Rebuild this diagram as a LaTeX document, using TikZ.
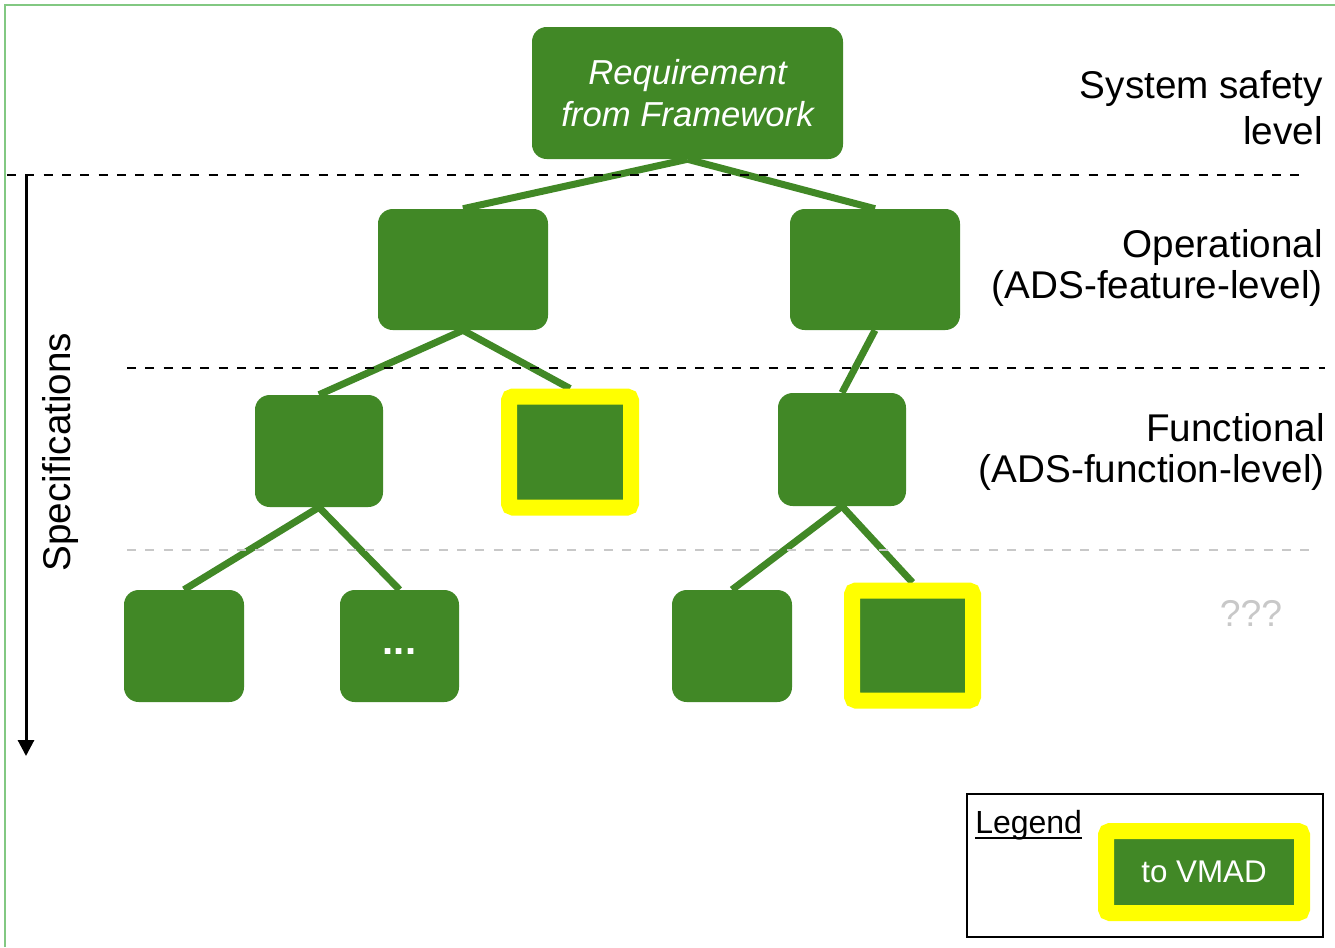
\documentclass[tikz,border=0pt]{standalone}
\usepackage{fontspec}
\setmainfont{Liberation Sans}
\usetikzlibrary{arrows.meta,backgrounds}
\begin{document}
\begin{tikzpicture}
% Requirement tree, drawn in pixel units
\def\px{0.75pt}
\definecolor{vmadGreen}{RGB}{65,136,38}
\definecolor{vmadYellow}{RGB}{255,255,0}
\definecolor{vmadFrame}{RGB}{130,200,130}
\definecolor{vmadGrey}{RGB}{200,200,200}
\tikzset{
  reqbox/.style={fill=vmadGreen, rounded corners=11pt, inner sep=0pt, text=white},
  vmadbox/.style={fill=vmadGreen, draw=vmadYellow, line width=12pt, rounded corners=3pt, inner sep=0pt, text=white},
  link/.style={draw=vmadGreen, line width=5.25pt},
  levelsep/.style={dash pattern=on 6.75pt off 7pt, line width=1.8pt},
  levellabel/.style={align=right, inner sep=0pt, anchor=base east},
}
\begin{scope}[x=\px, y=-\px]
  \useasboundingbox (0,0) rectangle (1335,947);
  % Outer frame (open to the right and bottom)
  \draw[vmadFrame, line width=1.5pt] (5,947) -- (5,5) -- (1335,5);
  % Level separators
  \draw[levelsep] (7,175) -- (1305,175);
  \draw[levelsep] (127,368) -- (1325,368);
  \draw[levelsep, vmadGrey] (127,550) -- (1312,550);
  % Top requirement
  \node[reqbox, minimum width={311*\px}, minimum height={132*\px}, align=center,
        font=\fontsize{26}{31.5}\selectfont\itshape] (req) at (687.5,93) {Requirement\\from Framework};
  % Operational level
  \node[reqbox, minimum width={170*\px}, minimum height={121*\px}] (opL) at (463,269.5) {};
  \node[reqbox, minimum width={170*\px}, minimum height={121*\px}] (opR) at (875,269.5) {};
  % Functional level
  \node[reqbox, minimum width={128*\px}, minimum height={112*\px}] (fnA) at (319,451) {};
  \node[vmadbox, minimum width={122*\px}, minimum height={111*\px}] (fnB) at (570,452) {};
  \node[reqbox, minimum width={128*\px}, minimum height={113*\px}] (fnC) at (842,449.5) {};
  % Level below
  \node[reqbox, minimum width={120*\px}, minimum height={112*\px}] (subD) at (184,646) {};
  \node[reqbox, minimum width={119*\px}, minimum height={112*\px},
        font=\fontsize{30}{34}\selectfont\bfseries] (subE) at (399.5,646) {\raisebox{-6pt}[0pt][0pt]{...}};
  \node[reqbox, minimum width={120*\px}, minimum height={112*\px}] (subF) at (732,646) {};
  \node[vmadbox, minimum width={121*\px}, minimum height={110*\px}] (subG) at (912.5,645.5) {};
  % Tree links
  \begin{scope}[on background layer]
    \draw[link] (req.south) -- (opL.north);
    \draw[link] (req.south) -- (opR.north);
    \draw[link] (opL.south) -- (fnA.north);
    \draw[link] (opL.south) -- (fnB.north);
    \draw[link] (opR.south) -- (fnC.north);
    \draw[link] (fnA.south) -- (subD.north);
    \draw[link] (fnA.south) -- (subE.north);
    \draw[link] (fnC.south) -- (subF.north);
    \draw[link] (fnC.south) -- (subG.north);
  \end{scope}
  % Level names (anchored on the last line)
  \node[levellabel, font=\fontsize{29}{34.5}\selectfont] (lvSys) at (1323,144) {System safety\\level};
  \node[levellabel, font=\fontsize{29}{30.5}\selectfont] (lvOp) at (1323,298) {Operational\\(ADS-feature-level)};
  \node[levellabel, font=\fontsize{29}{30.5}\selectfont] (lvFn) at (1325,482) {Functional\\(ADS-function-level)};
  \node[font=\fontsize{28}{32}\selectfont, text=vmadGrey, inner sep=0pt] (lvUnk) at (1251,613) {???};
  % Specification arrow
  \coordinate (specTop) at (26,175);
  \coordinate (specEnd) at (26,756);
  \draw[-{Triangle[width=12pt,length=12pt]}, line width=2.25pt] (specTop) -- (specEnd);
  \node[rotate=90, anchor=base, inner sep=0pt, font=\fontsize{29}{34}\selectfont] (spec) at (70,452) {Specifications};
  % Legend
  \draw[line width=1.5pt] (967,794) rectangle (1323,937);
  \node[anchor=base west, inner sep=0pt, font=\fontsize{24}{28}\selectfont] (legTitle) at (975,833) {Legend};
  \draw[line width=1.2pt] ([yshift=-3.75pt]legTitle.base west) -- ([yshift=-3.75pt]legTitle.base east);
  \node[vmadbox, minimum width={196*\px}, minimum height={82*\px},
        font=\fontsize{23.5}{28}\selectfont] (legBox) at (1204,872) {to VMAD};
\end{scope}
\end{tikzpicture}
\end{document}
